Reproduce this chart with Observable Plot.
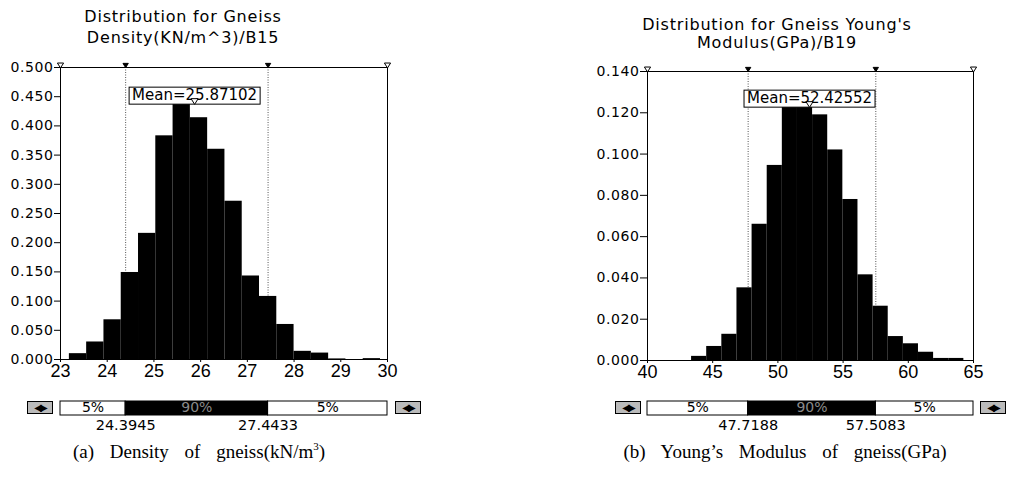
<!DOCTYPE html>
<html><head><meta charset="utf-8">
<script src="https://cdn.jsdelivr.net/npm/d3@7"></script>
<script src="https://cdn.jsdelivr.net/npm/@observablehq/plot@0.6"></script>
<style>
body{margin:0;background:#fff;}
#root{position:relative;width:1009px;height:480px;overflow:hidden;background:#fff;}
.t{position:absolute;font-family:"DejaVu Sans",sans-serif;font-size:16px;letter-spacing:0.8px;white-space:nowrap;transform:translateX(-50%);line-height:16px;color:#000;}
.cap{position:absolute;font-family:"Liberation Serif",serif;font-size:19px;word-spacing:11px;white-space:nowrap;transform:translateX(-50%);line-height:19px;color:#000;}
.cap sup{font-size:11px;vertical-align:8px;line-height:0;}
.btn{position:absolute;width:24px;height:11px;border:1px solid #000;background:#bbb;font-family:"DejaVu Sans";font-size:10px;line-height:11px;text-align:center;letter-spacing:-2px;color:#000;overflow:hidden;}
.plot{position:absolute;}
.plot svg{overflow:visible;}
.plot [aria-label^="y-axis"] text{font-family:"DejaVu Sans",sans-serif;font-size:14px;letter-spacing:0.6px;}
.plot [aria-label^="x-axis"] text{font-family:"Liberation Sans",sans-serif;font-size:18px;}
</style></head>
<body><div id="root"></div>
<script>
// ---------- data ----------
const densityTitle = ["Distribution for Gneiss", "Density(KN/m^3)/B15"];
const densityEdges = [23.19, 23.56, 23.93, 24.30, 24.67, 25.04, 25.41, 25.78, 26.15, 26.52, 26.89, 27.26, 27.63, 28.00, 28.37, 28.74, 29.11, 29.48, 29.85];
const densityValues = [0.010, 0.030, 0.068, 0.149, 0.216, 0.383, 0.447, 0.414, 0.360, 0.271, 0.143, 0.108, 0.060, 0.014, 0.011, 0.001, 0, 0.0015];
const densityXTicks = [23, 24, 25, 26, 27, 28, 29, 30];
const densityYTicks = [0, 0.05, 0.1, 0.15, 0.2, 0.25, 0.3, 0.35, 0.4, 0.45, 0.5];
const densityMean = 25.87102;
const densityPercentiles = [24.3945, 27.4433];
const densityCaption = "(a) Density of gneiss(kN/m<sup>3</sup>)";

const modulusTitle = ["Distribution for Gneiss Young's", "Modulus(GPa)/B19"];
const modulusEdges = [43.38, 44.54, 45.70, 46.86, 48.02, 49.18, 50.34, 51.50, 52.66, 53.82, 54.98, 56.14, 57.30, 58.46, 59.62, 60.78, 61.94, 63.10, 64.26];
const modulusValues = [0.002, 0.0068, 0.0127, 0.0352, 0.066, 0.0945, 0.1227, 0.1235, 0.119, 0.102, 0.078, 0.0415, 0.0263, 0.0116, 0.0081, 0.004, 0.001, 0.001];
const modulusXTicks = [40, 45, 50, 55, 60, 65];
const modulusYTicks = [0, 0.02, 0.04, 0.06, 0.08, 0.1, 0.12, 0.14];
const modulusMean = 52.42552;
const modulusPercentiles = [47.7188, 57.5083];
const modulusCaption = "(b) Young’s Modulus of gneiss(GPa)";

const sliderLabels = ["5%", "90%", "5%"];

// downward-pointing triangle symbol
const triDown = {
  draw(ctx, size){
    const s = Math.sqrt(size) / 2;
    ctx.moveTo(-s, -s * 0.8);
    ctx.lineTo(s, -s * 0.8);
    ctx.lineTo(0, s * 0.8);
    ctx.closePath();
  }
};

// ---------- layout ----------
const root = document.getElementById("root");
function div(cls, html, left, top){
  const d = document.createElement("div");
  d.className = cls; d.innerHTML = html;
  d.style.left = left + "px"; d.style.top = top + "px";
  root.appendChild(d); return d;
}

function chart(c){
  const xDomain = [c.xTicks[0], c.xTicks[c.xTicks.length-1]];
  const yDomain = [c.yTicks[0], c.yTicks[c.yTicks.length-1]];
  const bins = c.values.map((v,i)=>({x1:c.edges[i], x2:c.edges[i+1], y:v}));
  const ends = [xDomain[0], xDomain[1]];
  const hist = Plot.plot({
    width: c.width, height: 335,
    marginLeft: c.ml, marginRight: c.mr, marginTop: c.mt, marginBottom: c.mb,
    style: {fontFamily: "DejaVu Sans", fontSize: "14px", background: "transparent", color: "#000"},
    x: {domain: xDomain, ticks: c.xTicks, tickSize: 3, tickPadding: 2, label: null, tickFormat: d3.format("d")},
    y: {domain: yDomain, ticks: c.yTicks, tickSize: c.yTickSize, tickPadding: 1, label: null, tickFormat: d3.format(".3f")},
    marks: [
      Plot.ruleX(c.pct, {stroke: "#555", strokeWidth: 1, strokeDasharray: "1,1.5"}),
      Plot.rectY(bins, {x1: "x1", x2: "x2", y: "y", fill: "#000", insetLeft: 0, insetRight: 0}),
      Plot.ruleX([xDomain[1]], {stroke: "#000"}),
      Plot.frame({stroke: "#000", strokeWidth: 1}),
      Plot.dot(ends, {x: d=>d, y: ()=>yDomain[1], symbol: triDown, r: 3.5, fill: "#fff", stroke: "#000", strokeWidth: 1, dy: -2}),
      Plot.dot(c.pct, {x: d=>d, y: ()=>yDomain[1], symbol: triDown, r: 3, fill: "#000", stroke: "#000", strokeWidth: 1, dy: -2}),
      Plot.text([c.mean], {x: d=>d, frameAnchor: "top", text: d=>"Mean=" + d.toFixed(5), fontSize: 15, dy: c.meanDy, fill: "#000", fontFamily: "DejaVu Sans"}),
      Plot.dot([c.mean], {x: d=>d, frameAnchor: "top", symbol: triDown, r: 4, fill: "#fff", stroke: "#000", strokeWidth: 1, dy: c.triDy})
    ]
  });
  const hw = document.createElement("div");
  hw.className = "plot"; hw.style.left = c.left + "px"; hw.style.top = "50px";
  hw.appendChild(hist); root.appendChild(hw);
  // box around the mean label
  hist.querySelectorAll("text").forEach(t=>{
    if (t.textContent.startsWith("Mean=")) {
      const b = t.getBBox();
      const r = document.createElementNS("http://www.w3.org/2000/svg","rect");
      r.setAttribute("x", b.x - 3); r.setAttribute("y", b.y + 1);
      r.setAttribute("width", b.width + 6); r.setAttribute("height", b.height - 1);
      r.setAttribute("fill", "#fff"); r.setAttribute("stroke", "#000");
      if (t.getAttribute("transform")) r.setAttribute("transform", t.getAttribute("transform"));
      t.parentNode.insertBefore(r, t);
    }
  });

  // slider bar
  const segs = [
    {a: xDomain[0], b: c.pct[0], label: sliderLabels[0]},
    {a: c.pct[0], b: c.pct[1], label: sliderLabels[1]},
    {a: c.pct[1], b: xDomain[1], label: sliderLabels[2]}
  ];
  const slider = Plot.plot({
    width: c.width, height: 36,
    marginLeft: c.ml, marginRight: c.mr, marginTop: 1, marginBottom: 21,
    style: {fontFamily: "DejaVu Sans", fontSize: "14px", background: "transparent"},
    x: {domain: xDomain, axis: null},
    marks: [
      Plot.rect([segs[0], segs[2]], {x1: "a", x2: "b", fill: "#fff", stroke: "#000"}),
      Plot.rect([segs[1]], {x1: "a", x2: "b", fill: "#000", stroke: "#000"}),
      Plot.text([segs[0], segs[2]], {x: d=>(d.a+d.b)/2, text: "label", frameAnchor: "middle", fill: "#000", fontSize: 14, dy: -1}),
      Plot.text([segs[1]], {x: d=>(d.a+d.b)/2, text: "label", frameAnchor: "middle", fill: "#8a8a8a", fontSize: 14, dy: -1}),
      Plot.text(c.pct, {x: d=>d, text: d=>d.toFixed(4), frameAnchor: "bottom", lineAnchor: "top", dy: 4, fill: "#000", fontSize: 14.5})
    ]
  });
  const sw = document.createElement("div");
  sw.className = "plot"; sw.style.left = c.left + "px"; sw.style.top = "400px";
  sw.appendChild(slider); root.appendChild(sw);

  // buttons
  div("btn", "◀▶", c.btnL, 401);
  div("btn", "◀▶", c.btnR, 401);
  // titles and caption
  div("t", c.title[0], c.tx, c.ty[0]);
  div("t", c.title[1], c.tx, c.ty[1]);
  div("cap", c.caption, c.cx, 442);
}

chart({
  title: densityTitle, edges: densityEdges, values: densityValues, xTicks: densityXTicks, yTicks: densityYTicks,
  mean: densityMean, pct: densityPercentiles, caption: densityCaption,
  left: 0, width: 500, ml: 60, mr: 113, mt: 17, mb: 26, yTickSize: 6,
  meanDy: 22, triDy: 34, btnL: 27, btnR: 395, tx: 183, ty: [9, 30], cx: 199
});
chart({
  title: modulusTitle, edges: modulusEdges, values: modulusValues, xTicks: modulusXTicks, yTicks: modulusYTicks,
  mean: modulusMean, pct: modulusPercentiles, caption: modulusCaption,
  left: 500, width: 509, ml: 147, mr: 36, mt: 21, mb: 25, yTickSize: 7,
  meanDy: 21, triDy: 33, btnL: 615, btnR: 980, tx: 777, ty: [17, 35], cx: 785
});
</script>
</body></html>
